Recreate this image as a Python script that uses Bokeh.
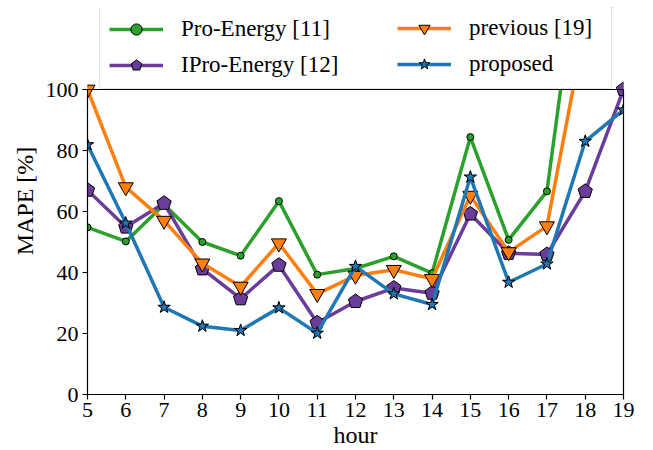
from bokeh.plotting import figure
from bokeh.models import Legend, LegendItem, Range1d, FixedTicker, LinearAxis, Span
from bokeh.embed import file_html
from bokeh.resources import INLINE

hours = list(range(5, 20))
pro_energy = [54.8, 50.2, 62.3, 50.0, 45.5, 63.4, 39.3, 41.3, 45.3, 39.8, 84.4, 50.7, 66.6, 160.0, 150.0]
ipro_energy = [67.0, 54.9, 62.7, 41.2, 31.4, 42.4, 23.5, 30.5, 34.9, 33.2, 59.2, 46.3, 45.9, 66.6, 100.0]
previous = [100.0, 68.0, 57.0, 43.0, 35.4, 49.6, 33.0, 39.0, 40.9, 37.9, 65.2, 46.7, 55.2, 121.0, 130.0]
proposed = [81.9, 56.2, 28.6, 22.4, 21.0, 28.4, 20.1, 42.0, 33.0, 29.5, 71.3, 36.8, 42.8, 83.0, 93.3]
y_ticks = [0, 20, 40, 60, 80, 100]
Y_MAX = 100

FONT = "Liberation Serif"
labels = ["Pro-Energy [11]", "IPro-Energy [12]", "previous [19]", "proposed"]
colors = ["#2ca02c", "#6a3d9a", "#ff7f0e", "#1f77b4"]
markers = ["circle", None, "inverted_triangle", "star"]
plot_sizes = [7, 7.5, 15, 13]
legend_sizes = [5, 6, 12, 10]
series_values = [pro_energy, ipro_energy, previous, proposed]

# frame extends up into the legend strip; data axis spans 0..100 over the lower part
FRAME_H = 387
DATA_H = 305
y_top = Y_MAX * FRAME_H / DATA_H

p = figure(frame_width=536, frame_height=FRAME_H,
           x_range=Range1d(5, 19), y_range=Range1d(0, y_top),
           output_backend="svg", toolbar_location=None,
           min_border_left=87, min_border_right=30, min_border_top=7, min_border_bottom=56)
p.grid.visible = False
p.outline_line_color = None
p.background_fill_color = "white"
p.border_fill_color = "white"


def style_axis(ax):
    ax.axis_line_color = "black"
    ax.axis_line_width = 1.2
    ax.major_tick_line_color = "black"
    ax.major_tick_line_width = 1.2
    ax.major_tick_out = 5
    ax.major_tick_in = 0
    ax.minor_tick_line_color = None
    ax.major_label_text_font = FONT
    ax.major_label_text_font_size = "22px"
    ax.major_label_text_color = "black"
    ax.axis_label_text_font = FONT
    ax.axis_label_text_font_size = "24px"
    ax.axis_label_text_font_style = "normal"
    ax.axis_label_text_color = "black"


p.xaxis.ticker = FixedTicker(ticks=hours)
p.yaxis.ticker = FixedTicker(ticks=y_ticks)
p.yaxis.bounds = (0, Y_MAX)
for ax in (p.xaxis[0], p.yaxis[0]):
    style_axis(ax)
p.xaxis.axis_label = "hour"
p.yaxis.axis_label = "MAPE [%]"
p.xaxis.major_label_standoff = 3
p.yaxis.major_label_standoff = 4
p.xaxis.axis_label_standoff = 2
p.yaxis.axis_label_standoff = 5

# right spine
right = LinearAxis(bounds=(0, Y_MAX), ticker=FixedTicker(ticks=[]),
                   major_label_text_font_size="0px", major_label_standoff=0,
                   axis_label_standoff=0, major_tick_out=0, major_tick_in=0,
                   axis_line_color="black", axis_line_width=1.2,
                   major_tick_line_color=None, minor_tick_line_color=None)
p.add_layout(right, "right")
# top spine
p.add_layout(Span(location=Y_MAX, dimension="width", line_color="black", line_width=1.2))

legend_items = []
for lab, ys, color, marker, size, lsize in zip(labels, series_values, colors, markers,
                                               plot_sizes, legend_sizes):
    ln = p.line(hours, ys, line_color=color, line_width=3.5)
    if marker is None:
        small = p.ngon(x=hours, y=ys, radius=lsize, radius_units="screen", n=5,
                       fill_color=color, line_color="black", line_width=1)
        p.ngon(x=hours, y=ys, radius=size, radius_units="screen", n=5,
               fill_color=color, line_color="black", line_width=1)
    else:
        small = p.scatter(hours, ys, marker=marker, size=lsize, fill_color=color,
                          line_color="black", line_width=1)
        p.scatter(hours, ys, marker=marker, size=size, fill_color=color,
                  line_color="black", line_width=1)
    legend_items.append(LegendItem(label=lab, renderers=[ln, small]))


def make_legend(items, loc, label_width, border):
    lg = Legend(items=items, location=loc, orientation="vertical")
    lg.label_text_font = FONT
    lg.label_text_font_size = "23px"
    lg.label_text_color = "black"
    lg.glyph_width = 54
    lg.glyph_height = 28
    lg.label_height = 28
    lg.label_width = label_width
    lg.spacing = 8
    lg.padding = 9
    lg.margin = 0
    lg.label_standoff = 18
    lg.click_policy = "none"
    if border:
        lg.border_line_color = "#cccccc"
        lg.border_line_width = 1
        lg.border_radius = 4
        lg.background_fill_color = "white"
        lg.background_fill_alpha = 1.0
    else:
        lg.border_line_color = None
        lg.background_fill_alpha = 0
    return lg


p.add_layout(make_legend(legend_items[:2], (12, DATA_H), 421, True))
p.add_layout(make_legend(legend_items[2:], (310, DATA_H + 11), 120, False))

open("out.html", "w").write(file_html(p, INLINE))
